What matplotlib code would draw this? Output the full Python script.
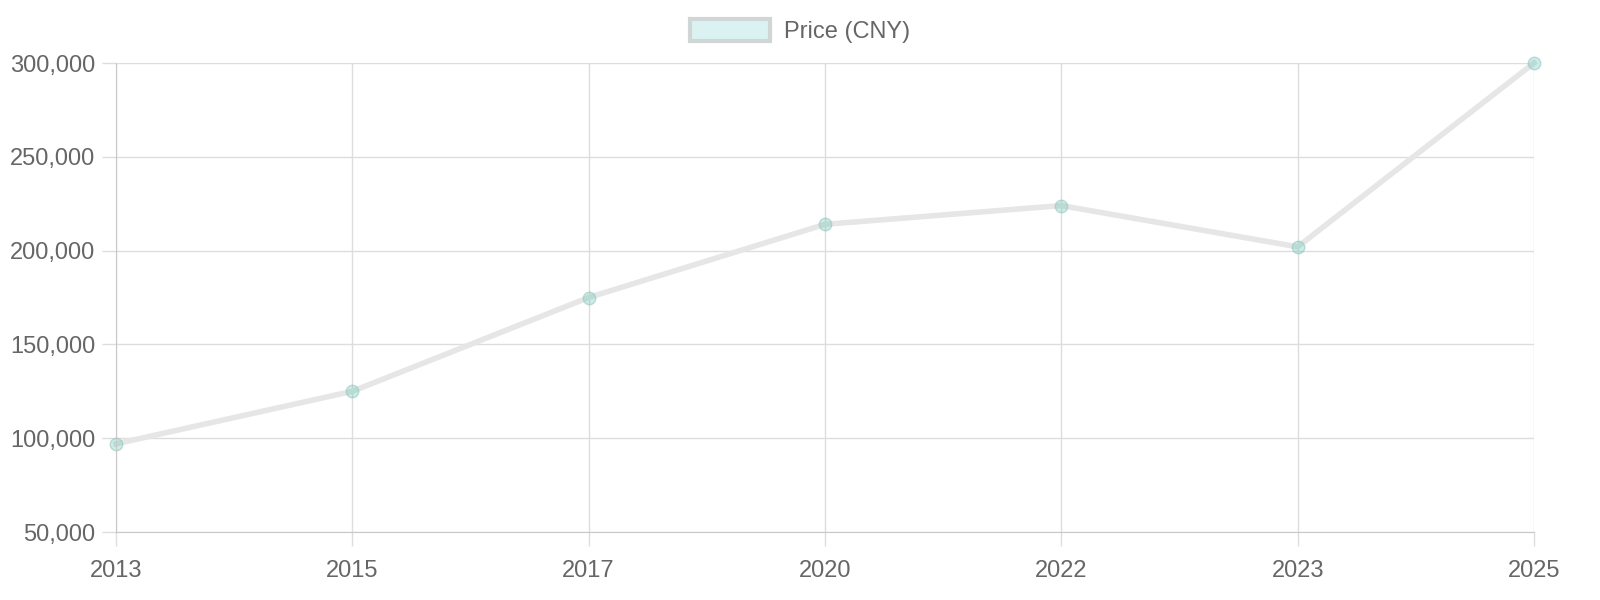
import matplotlib.pyplot as plt
from matplotlib.patches import Patch
from matplotlib.ticker import FuncFormatter

plt.rcParams['font.family'] = ['Liberation Sans', 'DejaVu Sans']

years = ['2013', '2015', '2017', '2020', '2022', '2023', '2025']
prices = [97000, 125000, 175000, 214000, 224000, 202000, 300000]

fig = plt.figure(figsize=(16, 6), dpi=100)
ax = fig.add_axes([116 / 1600, 1 - 532 / 600, (1534 - 116) / 1600, (532 - 63) / 600])

x = list(range(len(years)))
ax.plot(x, prices, color='#e6e6e6', linewidth=4, zorder=2, clip_on=False,
        marker='o', markersize=9, markerfacecolor=(75 / 255, 192 / 255, 170 / 255, 0.28),
        markeredgecolor=(150 / 255, 200 / 255, 190 / 255, 0.6), markeredgewidth=1)

ax.set_xlim(0, len(years) - 1)
ax.set_ylim(50000, 300000)
ax.set_xticks(x)
ax.set_xticklabels(years)
ax.set_yticks(range(50000, 300001, 50000))
ax.yaxis.set_major_formatter(FuncFormatter(lambda v, p: f'{int(v):,}'))

ax.grid(True, color='#dddddd', linewidth=1, zorder=0)
for s in ['top', 'right']:
    ax.spines[s].set_visible(False)
for s in ['left', 'bottom']:
    ax.spines[s].set_color('#c8c8c8')
ax.tick_params(axis='both', colors='#dddddd', labelcolor='#666666', labelsize=17, length=10, width=1)
ax.tick_params(axis='y', pad=5)
ax.tick_params(axis='x', pad=10)
ax.set_axisbelow(True)

handle = Patch(facecolor=(75 / 255, 192 / 255, 192 / 255, 0.2), edgecolor='#d0d6d6', linewidth=3)
fig.legend(handles=[handle], labels=['Price (CNY)'], loc='center', bbox_to_anchor=(0.5, 1 - 31 / 600),
           frameon=False, fontsize=17, labelcolor='#666666', handlelength=3.4, handleheight=1.1,
           handletextpad=0.6)

fig.savefig('out.png', dpi=100)
